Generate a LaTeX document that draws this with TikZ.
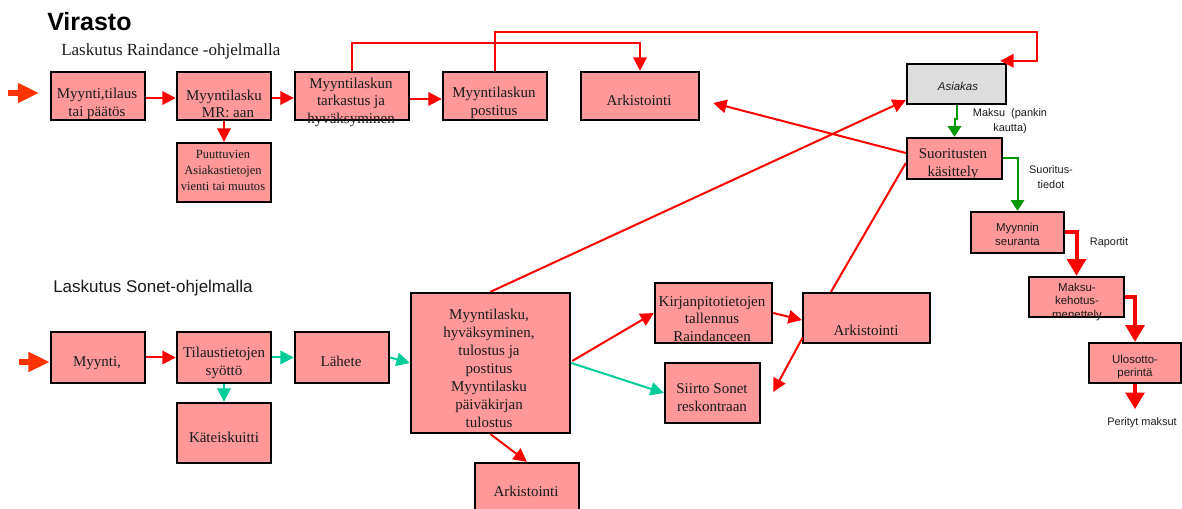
\documentclass[tikz,border=0pt]{standalone}
\usepackage{fontspec}
\setmainfont{Liberation Serif}
\setsansfont{Liberation Sans}
\usetikzlibrary{arrows.meta,shapes.misc,calc}
\definecolor{boxfill}{HTML}{FF9999}
\definecolor{asfill}{HTML}{DDDDDD}
\definecolor{teal2}{HTML}{00CC99}
\definecolor{green2}{HTML}{009900}
\definecolor{inred}{HTML}{FF3300}
\definecolor{txt}{HTML}{1A1A1A}
\newcommand\ftbox{\fontsize{11.25pt}{13.1pt}\selectfont}
\newcommand\ftbig{\fontsize{11.25pt}{13.5pt}\selectfont}
\newcommand\ftsmall{\fontsize{9.4pt}{12pt}\selectfont}
\newcommand\ftsansbox{\sffamily\fontsize{8.6pt}{10.3pt}\selectfont}
\newcommand\ftlab{\sffamily\fontsize{8.2pt}{11pt}\selectfont}
\newcommand\fttitle{\sffamily\bfseries\fontsize{18.75pt}{20pt}\selectfont}
\newcommand\ftsub{\fontsize{12.75pt}{14pt}\selectfont}
\newcommand\ftsubsans{\sffamily\fontsize{12.75pt}{14pt}\selectfont}
\tikzset{
  bx/.style 2 args={draw=black, line width=1.8pt, fill=boxfill, minimum width=#1*0.75pt, minimum height=#2*0.75pt, inner sep=0pt},
  tx/.style={inner sep=0pt, align=center, text=txt, font=\ftbox},
  ar/.style={draw=red, line width=1.5pt, -{Triangle[length=10pt,width=10pt]}},
  ln/.style={draw=red, line width=1.5pt},
  tar/.style={draw=teal2, line width=1.5pt, -{Triangle[length=10pt,width=10pt]}},
  gar/.style={draw=green2, line width=1.5pt, -{Triangle[length=8pt,width=10pt]}},
  kar/.style={draw=red, line width=3pt, -{Triangle[length=12.5pt,width=14pt]}},
  iar/.style={draw=inred, line width=4pt, -{Triangle[length=16pt,width=14pt]}},
}
\begin{document}
\begin{tikzpicture}[x=0.75pt,y=-0.75pt]
\useasboundingbox (0,0) rectangle (1182,509);
% titles
\node[anchor=base west, inner sep=0pt, font=\fttitle, text=black] (title) at (47,31) {Virasto};
\node[anchor=base west, inner sep=0pt, font=\ftsub, text=txt] (h1) at (61,56) {Laskutus Raindance -ohjelmalla};
\node[anchor=base west, inner sep=0pt, font=\ftsubsans, text=txt] (h2) at (53,293) {Laskutus Sonet-ohjelmalla};
% top row boxes
\node[bx={94}{48}] (A1) at (98,96) {};
\node[bx={94}{48}] (A2) at (224,96) {};
\node[bx={114}{48}] (A3) at (352,96) {};
\node[bx={104}{48}] (A4) at (495,96) {};
\node[bx={118}{48}] (A5) at (640,96) {};
\node[bx={94}{59}] (A6) at (224,172.5) {};
% right column
\node[chamfered rectangle, chamfered rectangle xsep=3.5pt, chamfered rectangle ysep=3.5pt, draw=black, line width=1.8pt, fill=asfill, minimum width=74.25pt, minimum height=30pt, inner sep=0pt] (Asiakas) at (956.5,84) {};
\node[bx={95}{41}] (S) at (954.5,158.5) {};
\node[bx={93}{41}] (M) at (1017.5,232.5) {};
\node[bx={95}{40}] (K) at (1076.5,297) {};
\node[bx={92}{40}] (U) at (1135,363) {};
% bottom row
\node[bx={94}{51}] (B1) at (98,357.5) {};
\node[bx={94}{51}] (B2) at (224,357.5) {};
\node[bx={94}{51}] (B3) at (342,357.5) {};
\node[bx={94}{60}] (B4) at (224,433) {};
\node[bx={159}{140}] (Big) at (490.5,363) {};
\node[bx={117}{60}] (Kirj) at (713.5,313) {};
\node[bx={95}{60}] (Siirto) at (712.5,393) {};
\node[bx={127}{50}] (ArkM) at (866.5,318) {};
\node[bx={104}{49}] (ArkB) at (527,487.5) {};
% connectors top
\coordinate (i1) at (8,93);
\draw[iar, shorten >=8pt] (i1) -- (i1 -| A1.west);
\draw[ar] ([yshift=-1.5pt]A1.east) -- ([yshift=-1.5pt]A2.west);
\draw[ar] ([yshift=-1.5pt]A2.east) -- ([yshift=-1.5pt]A3.west);
\draw[ar] ([yshift=-2.25pt]A3.east) -- ([yshift=-2.25pt]A4.west);
\draw[ar] (A2.south) -- (A6.north);
\draw[ar] (A3.north) -- (A3.north |- 0,43) -| (A5.north);
\coordinate (c1) at (1037,32);
\draw[ar] (A4.north) |- (c1) |- ($(Asiakas.north -| Asiakas.east)+(-7,-2)$);
% right column connectors
\draw[gar] (Asiakas.south) -- ++(0,14) -| (S.north);
\draw[gar] (S.east) -| (M.north);
\draw[kar] (M.east) -| (K.north);
\draw[kar] (K.east) -| (U.north);
\draw[kar] (U.south) -- ++(0,25) coordinate (pe);
% long diagonals
\draw[ar] (Big.north) -- ($(Asiakas.south -| Asiakas.west)+(0,-5)$);
\draw[ar] ($(S.west)+(0,-5.5)$) -- ($(A5.east)+(13,7)$);
\draw[ln] ($(ArkM.north)+(-35.5,0)$) -- ($(S.west)+(0,4.5)$);
\draw[ar] ($(ArkM.south west)+(1,-7)$) -- ($(Siirto.east)+(12,-1)$);
\draw[ar] (Kirj.east) -- ($(ArkM.west)+(0,2)$);
\draw[ar] ($(Big.east)+(1,-2)$) -- (Kirj.west);
\draw[tar] (Big.east) -- (Siirto.west);
\draw[ar] (Big.south) -- (ArkB.north);
% bottom connectors
\coordinate (i2) at (19,362);
\draw[iar] (i2) -- (i2 -| B1.west);
\draw[ar] (B1.east) -- (B2.west);
\draw[tar] (B2.east) -- (B3.west);
\draw[tar] (B3.east) -- (Big.west);
\draw[tar] (B2.south) -- (B4.north);
% texts
\node[tx] (tA1) at (97,104) {Myynti,tilaus\\tai päätös};
\node[tx] (tA2) at (224,104) {Myyntilasku\\\hspace*{6pt}MR: aan};
\node[tx] (tA3) at (351,102) {Myyntilaskun\\tarkastus ja\\hyväksyminen};
\node[tx] (tA4) at (494,103) {Myyntilaskun\\postitus};
\node[tx, anchor=base] (tA5) at (639,106) {Arkistointi};
\node[tx, font=\ftsmall] (tA6) at (223,170) {Puuttuvien\\Asiakastietojen\\vienti tai muutos};
\node[tx, font=\ftsansbox\itshape, anchor=base] (tAs) at (958,91) {Asiakas};
\node[tx] (tS) at (953,164) {Suoritusten\\käsittely};
\node[tx, font=\ftsansbox] (tM) at (1017.5,234.5) {Myynnin\\seuranta};
\node[tx, font=\ftsansbox] (tK) at (1077,302) {Maksu-\\kehotus-\\menettely};
\node[tx, font=\ftsansbox] (tU) at (1135,367) {Ulosotto-\\perintä};
\node[tx, font=\ftlab] (l1) at (1010,121.5) {Maksu\ \ (pankin\\kautta)};
\node[tx, font=\ftlab] (l2) at (1051,177) {Suoritus-\\tiedot};
\node[tx, font=\ftlab, anchor=base] (l3) at (1109,246) {Raportit};
\node[tx, font=\ftlab, anchor=base] (l4) at (1142,426) {Perityt maksut};
\node[tx, anchor=base] (tB1) at (97,367) {Myynti,};
\node[tx] (tB2) at (224,363) {Tilaustietojen\\syöttö};
\node[tx, anchor=base] (tB3) at (341,367) {Lähete};
\node[tx, anchor=base] (tB4) at (224,443) {Käteiskuitti};
\node[tx, font=\ftbig] (tBig) at (489,368) {Myyntilasku,\\hyväksyminen,\\tulostus ja\\postitus\\Myyntilasku\\päiväkirjan\\tulostus};
\node[tx] (tKirj) at (712,319) {Kirjanpitotietojen\\tallennus\\Raindanceen};
\node[tx] (tSiirto) at (712,397.5) {Siirto Sonet\\reskontraan};
\node[tx, anchor=base] (tArkM) at (866,336) {Arkistointi};
\node[tx, anchor=base] (tArkB) at (526,497) {Arkistointi};
\end{tikzpicture}
\end{document}
